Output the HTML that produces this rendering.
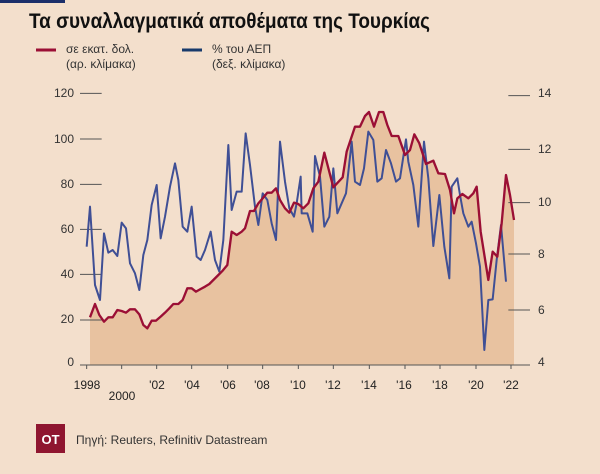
<!DOCTYPE html>
<html><head><meta charset="utf-8"><style>
body{margin:0;width:600px;height:474px;background:#f3dfcc;overflow:hidden;font-family:"Liberation Sans",sans-serif;}
</style></head><body>
<svg width="600" height="474" xmlns="http://www.w3.org/2000/svg" style="position:absolute;left:0;top:0">
<rect x="0" y="0" width="65" height="3" fill="#1b2f6b"/>
<text x="29" y="28" font-size="21" font-weight="bold" fill="#111" textLength="401" lengthAdjust="spacingAndGlyphs">Τα συναλλαγματικά αποθέματα της Τουρκίας</text>
<line x1="36" y1="50" x2="56" y2="50" stroke="#9b0f35" stroke-width="3"/>
<text x="66" y="53" font-size="12" fill="#333">σε εκατ. δολ.</text>
<text x="66" y="68" font-size="12" fill="#333">(αρ. κλίμακα)</text>
<line x1="182" y1="50" x2="202" y2="50" stroke="#173a6b" stroke-width="3"/>
<text x="212" y="53" font-size="12" fill="#333">% του ΑΕΠ</text>
<text x="212" y="68" font-size="12" fill="#333">(δεξ. κλίμακα)</text>
<g font-size="12" fill="#333" text-anchor="end">
<text x="74" y="97">120</text><text x="74" y="143">100</text><text x="74" y="188">80</text>
<text x="74" y="233">60</text><text x="74" y="278">40</text><text x="74" y="323">20</text><text x="74" y="366">0</text>
</g>
<g font-size="12" fill="#333">
<text x="538" y="97">14</text><text x="538" y="153">12</text><text x="538" y="206">10</text>
<text x="538" y="258">8</text><text x="538" y="314">6</text><text x="538" y="366">4</text>
</g>
<g transform="translate(40,80) scale(0.33333)">
<path fill="#e8c2a0" d="M150,855 L150,712 165,672 178,705 192,725 205,712 218,712 232,690 245,693 258,698 270,688 285,688 298,703 310,735 322,745 335,722 348,722 362,710 375,698 388,685 400,672 415,672 428,660 442,625 455,625 468,635 482,627 495,620 508,612 520,600 535,585 548,572 562,555 575,455 590,465 605,455 615,445 630,393 642,393 655,370 668,355 682,338 695,338 708,325 720,360 735,385 748,398 762,368 775,372 790,385 805,370 820,325 835,305 853,218 880,322 908,292 920,215 945,140 960,140 975,108 987,96 1002,140 1017,96 1030,96 1042,135 1055,168 1075,168 1095,225 1110,210 1123,163 1138,190 1158,252 1180,242 1195,280 1215,282 1230,330 1242,400 1252,355 1267,342 1285,355 1300,340 1310,320 1322,455 1345,600 1358,515 1372,530 1385,430 1398,285 1410,345 1422,420 L1422,855 Z"/>
<g stroke="#555" stroke-width="3" fill="none">
<path d="M120,40h65M120,177h65M120,313h65M120,448h65M120,583h65M120,720h65"/>
<path d="M1405,47h65M1405,208h65M1405,368h65M1405,522h65M1405,690h65"/>
<path d="M120,855H1470"/>
<path d="M140,855v12M245,855v12M350,855v12M455,855v12M563,855v12M668,855v12M775,855v12M880,855v12M988,855v12M1095,855v12M1200,855v12M1308,855v12M1413,855v12"/>
</g>
<path fill="none" stroke="#3f4f95" stroke-width="6" stroke-linejoin="round" d="M140,500 150,380 165,615 180,660 192,460 205,518 218,510 232,528 245,428 258,445 270,550 285,580 298,630 310,525 322,480 335,375 350,315 362,475 375,410 390,320 405,250 415,300 428,440 442,455 455,380 470,530 482,540 495,510 512,455 525,540 538,575 550,480 565,195 575,390 590,335 605,335 617,160 630,255 645,380 655,435 668,340 682,360 695,430 708,480 720,185 735,305 748,385 762,410 770,370 782,290 785,400 802,400 818,455 825,228 840,290 853,440 868,410 880,265 892,400 905,370 918,340 935,185 945,305 960,315 972,265 985,155 1000,180 1012,305 1025,295 1038,210 1053,250 1068,305 1080,295 1098,178 1105,245 1120,315 1135,440 1152,185 1165,295 1180,498 1198,345 1213,500 1228,595 1235,320 1252,295 1260,345 1270,400 1285,440 1295,425 1308,490 1320,560 1333,810 1345,660 1358,658 1370,540 1383,435 1398,605"/>
<path fill="none" stroke="#9b0f35" stroke-width="7" stroke-linejoin="round" d="M150,712 165,672 178,705 192,725 205,712 218,712 232,690 245,693 258,698 270,688 285,688 298,703 310,735 322,745 335,722 348,722 362,710 375,698 388,685 400,672 415,672 428,660 442,625 455,625 468,635 482,627 495,620 508,612 520,600 535,585 548,572 562,555 575,455 590,465 605,455 615,445 630,393 642,393 655,370 668,355 682,338 695,338 708,325 720,360 735,385 748,398 762,368 775,372 790,385 805,370 820,325 835,305 853,218 880,322 908,292 920,215 945,140 960,140 975,108 987,96 1002,140 1017,96 1030,96 1042,135 1055,168 1075,168 1095,225 1110,210 1123,163 1138,190 1158,252 1180,242 1195,280 1215,282 1230,330 1242,400 1252,355 1267,342 1285,355 1300,340 1310,320 1322,455 1345,600 1358,515 1372,530 1385,430 1398,285 1410,345 1422,420"/>
</g>
<g font-size="12" fill="#222" text-anchor="middle">
<text x="87" y="389">1998</text><text x="122" y="400">2000</text><text x="157" y="389">'02</text>
<text x="192" y="389">'04</text><text x="228" y="389">'06</text><text x="262" y="389">'08</text>
<text x="298" y="389">'10</text><text x="333" y="389">'12</text><text x="369" y="389">'14</text>
<text x="404" y="389">'16</text><text x="440" y="389">'18</text><text x="476" y="389">'20</text>
<text x="511" y="389">'22</text>
</g>
<rect x="36" y="424" width="29" height="29" fill="#8f1630"/>
<text x="50.5" y="444" font-size="13" font-weight="bold" fill="#fff" text-anchor="middle">OT</text>
<text x="76" y="444" font-size="12" fill="#333">Πηγή: Reuters, Refinitiv Datastream</text>
</svg>
</body></html>
